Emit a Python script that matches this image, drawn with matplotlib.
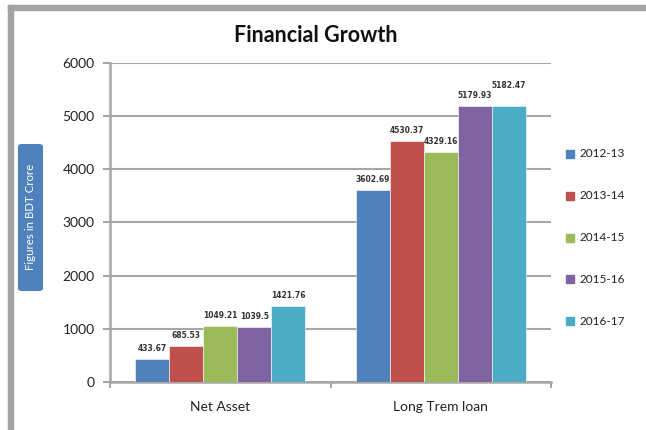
import numpy as np
import matplotlib.pyplot as plt
from matplotlib.patches import FancyBboxPatch, Rectangle

# data
categories = ["Net Asset", "Long Trem loan"]
years = ["2012-13", "2013-14", "2014-15", "2015-16", "2016-17"]
net_asset = [433.67, 685.53, 1049.21, 1039.5, 1421.76]
long_term_loan = [3602.69, 4530.37, 4329.16, 5179.93, 5182.47]
labels_net = ["433.67", "685.53", "1049.21", "1039.5", "1421.76"]
labels_loan = ["3602.69", "4530.37", "4329.16", "5179.93", "5182.47"]
yticks = [0, 1000, 2000, 3000, 4000, 5000, 6000]

COLORS = ["#4F81BD", "#C0504D", "#9BBB59", "#8064A2", "#4BACC6"]
GRID = "#A6A6A6"
FONT = ["Lato", "DejaVu Sans"]
plt.rcParams['font.family'] = FONT

fig = plt.figure(figsize=(6.46, 4.30), dpi=100)
ax = fig.add_axes([110/646, 1 - 382/430, 441/646, (382 - 62.7)/430])

# frame bands around the picture (top and left)
fig.patches.append(Rectangle((8/646, 1 - 10/430), 1, 5/430, transform=fig.transFigure,
                             color="#A3A3A3", zorder=0))
fig.patches.append(Rectangle((8/646, 0), 5/646, 1 - 5/430, transform=fig.transFigure,
                             color="#A3A3A3", zorder=0))

n = len(years)
w = 1 / 6.5
x = np.arange(len(categories)) + 0.5
for i in range(n):
    vals = [net_asset[i], long_term_loan[i]]
    pos = x + (i - (n - 1) / 2) * w
    ax.bar(pos, vals, width=w, color=COLORS[i], edgecolor="white", linewidth=0.4,
           label=years[i], zorder=3)
    for k, (p, v, t) in enumerate(zip(pos, vals, [labels_net[i], labels_loan[i]])):
        # Excel nudged the last loan label up so it clears its neighbour
        bump = 190 if (k == 1 and i == n - 1) else 0
        ax.text(p, v + 110 + bump, t, ha="center", va="bottom", fontsize=5.5,
                fontweight="bold", color="#333333", family=["DejaVu Sans"])

ax.set_xlim(0, len(categories))
ax.set_ylim(0, 6000)
ax.set_yticks(yticks)
ax.set_yticklabels([str(t) for t in yticks], fontsize=10, color="#222222")
ax.yaxis.grid(True, color=GRID, linewidth=1.5, zorder=0)
ax.set_axisbelow(True)

ax.set_xticks([0, 1, 2])
ax.set_xticklabels([])
ax.set_xticks(x, minor=True)
ax.set_xticklabels(categories, minor=True, fontsize=10, color="#222222")
ax.tick_params(axis="x", which="major", length=4, color=GRID, width=1.5)
ax.tick_params(axis="x", which="minor", length=0, pad=14)
ax.tick_params(axis="y", length=5, color=GRID, width=1.5, pad=6)

for s in ["top", "right"]:
    ax.spines[s].set_visible(False)
for s in ["left", "bottom"]:
    ax.spines[s].set_color(GRID)
    ax.spines[s].set_linewidth(1.8)

fig.text(316/646, 1 - 35/430, "Financial Growth", ha="center", va="center",
         fontsize=15.5, fontweight="bold", color="#111111")

# y label box
box = FancyBboxPatch((18/646, 1 - 291/430), 25/646, 147/430,
                     boxstyle="round,pad=0,rounding_size=0.006",
                     transform=fig.transFigure, facecolor="#4F81BD",
                     edgecolor="none")
fig.patches.append(box)
fig.text(30.5/646, 1 - 217/430, "Figures in BDT Crore", rotation=90, ha="center",
         va="center", fontsize=8.3, color="white")

# legend
for i, yr in enumerate(years):
    yy = 1 - (154 + i * 41.8) / 430
    fig.patches.append(Rectangle((566/646, yy - 4/430), 8/646, 8/430,
                                 transform=fig.transFigure, color=COLORS[i]))
    fig.text(579/646, yy, yr, ha="left", va="center", fontsize=8.5,
             color="#222222")

fig.savefig("out.png", dpi=100)
